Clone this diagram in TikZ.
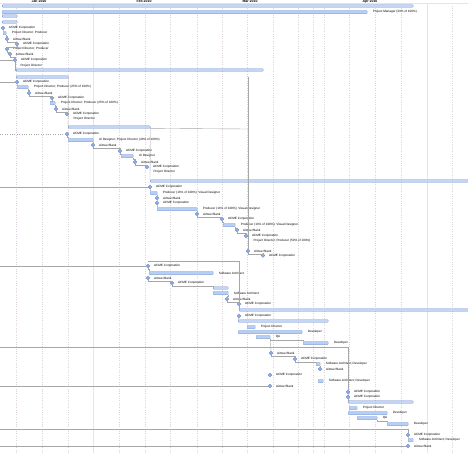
\documentclass[tikz,border=0pt]{standalone}
\usepackage{fontspec}
\setmainfont{Liberation Sans}
\usepackage{xcolor}
\usetikzlibrary{shapes.geometric}

\definecolor{barfill}{HTML}{B8CEF3}
\definecolor{barline}{HTML}{86A6DD}
\definecolor{sumline}{HTML}{6A89CC}
\definecolor{sumfill}{HTML}{C4D6F5}
\definecolor{msfill}{HTML}{8EAEE6}
\definecolor{depgray}{HTML}{A6A6A6}
\definecolor{gridpink}{HTML}{DDD2DD}

% bar, summary bar, milestone
\newcommand{\gsum}[4]{\node[sumbar, minimum width={(#3-#2)*1pt}] (#1) at (#2,#4) {};}
\newcommand{\gtask}[5]{\node[taskbar, minimum width={(#3-#2)*1pt}] (#1) at (#2,#4) {};
  \node[lbl] (#1-l) at ([xshift=5pt]#1.east) {#5};}
\newcommand{\gmile}[4]{\node[mstone] (#1) at (#2,#3) {};
  \node[lbl] (#1-l) at ([xshift=5.5pt]#1.center) {#4};}
\newcommand{\gdep}[2]{\draw[dep] (#1) -- ++(0,1.2) -| (#2);}

\begin{document}
\begin{tikzpicture}[x=1pt, y=-1pt,
    taskbar/.style={draw=barline, fill=barfill, rounded corners=0.6pt, line width=0.3pt, minimum height=3.2pt, inner sep=0pt, anchor=west},
    sumbar/.style={taskbar, draw=sumline, fill=sumfill, minimum height=2.4pt},
    mstone/.style={diamond, draw=sumline, fill=msfill, minimum size=3.8pt, inner sep=0pt, line width=0.3pt},
    lbl/.style={anchor=west, inner sep=0.3pt, font=\fontsize{3.1}{3.6}\selectfont},
    month/.style={inner sep=0pt, font=\fontsize{3.5}{4}\selectfont\bfseries},
    dep/.style={draw=depgray, line width=0.4pt},
    gridline/.style={draw=gridpink, dotted, line width=0.35pt},
    monthline/.style={draw=gray!20, line width=0.4pt}
]
\useasboundingbox (0,0) rectangle (468,453);
\fill[white] (0,0) rectangle (468,453);

% time grid
\foreach \gx in {16,42,68,119,145,170,197,222,247,273,298,313,324,349,375,401,452}
  \draw[gridline] (\gx,3.2) -- (\gx,453);
\foreach \gx in {93,427}
  \draw[monthline] (\gx,3.2) -- (\gx,453);
\draw[monthline] (0,3.2) -- (468,3.2);
\node[month] (jan) at (39,1.2) {Jan 2010};
\node[month] (feb) at (144,1.2) {Feb 2010};
\node[month] (mar) at (250,1.2) {Mar 2010};
\node[month] (apr) at (370,1.2) {Apr 2010};

% first phase
\gsum{s1}{2}{413}{6}
\gtask{t2}{2}{367}{12}{Project Manager (33\% of 100\%)}
\gsum{s3}{2}{17}{16}
\gsum{s4}{2}{17}{22}
\gmile{m5}{3}{28}{ACME Corporation}
\gtask{t6}{3}{6}{33}{Project Director; Producer}
\gmile{m7}{7}{39}{Aimee Blank}
\gmile{m8}{17}{44}{ACME Corporation}
\gmile{m9}{7}{49}{Project Director; Producer}
\gmile{m10}{10}{54}{Aimee Blank}
\gmile{m11}{15}{60}{ACME Corporation}
\node[lbl] (pd11) at (20,66) {Project Director};

\gsum{s13}{16}{263}{70}
\gsum{s14}{16}{68}{77}
\gmile{m15}{17}{82}{ACME Corporation}
\gtask{t16}{17}{28}{87}{Project Director; Producer (25\% of 100\%)}
\gmile{m17}{29}{93}{Aimee Blank}
\gmile{m18}{52}{98}{ACME Corporation}
\gtask{t19}{50}{55}{103}{Project Director; Producer (25\% of 100\%)}
\gmile{m20}{56}{109}{Aimee Blank}
\gmile{m21}{67}{114}{ACME Corporation}
\node[lbl] (pd21) at (73,119) {Project Director};

% design
\gsum{s23}{68}{150}{127}
\gmile{m24}{67}{134}{ACME Corporation}
\gtask{t25}{68}{93}{140}{UI Designer; Project Director (40\% of 100\%)}
\gmile{m26}{93}{145}{Aimee Blank}
\gmile{m27}{120}{151}{ACME Corporation}
\gtask{t28}{121}{133}{156}{UI Designer}
\gmile{m29}{135}{162}{Aimee Blank}
\gmile{m30}{147}{167}{ACME Corporation}
\node[lbl] (pd30) at (153,172) {Project Director};

\gsum{s32}{150}{468}{181}
\gmile{m33}{150}{187}{ACME Corporation}
\gtask{t34}{150}{157}{193}{Producer (13\% of 100\%); Visual Designer}
\gmile{m35}{157}{198}{Aimee Blank}
\gmile{m36}{157}{203}{ACME Corporation}
\gtask{t37}{157}{197}{209}{Producer (13\% of 100\%); Visual Designer}
\gmile{m38}{197}{214}{Aimee Blank}
\gmile{m39}{222}{219}{ACME Corporation}
\gtask{t40}{223}{235}{225}{Producer (13\% of 100\%); Visual Designer}
\gmile{m41}{237}{230}{Aimee Blank}
\gmile{m42}{246}{236}{ACME Corporation}
\node[lbl] (pd42) at (253,241) {Project Director; Producer (50\% of 100\%)};
\gmile{m44}{248}{251}{Aimee Blank}
\gmile{m45}{263}{255.5}{ACME Corporation}

% architecture
\gmile{m46}{148}{266}{ACME Corporation}
\gtask{t47}{149}{213}{273}{Software Architect}
\gmile{m48}{148}{278}{Aimee Blank}
\gmile{m49}{172}{283}{ACME Corporation}
\gsum{s50}{213}{228}{288}
\gtask{t51}{213}{228}{293}{Software Architect}
\gmile{m52}{227}{299}{Aimee Blank}
\gmile{m53}{239}{304}{ACME Corporation}

% build
\gsum{s54}{239}{468}{310}
\gmile{m55}{239}{316}{ACME Corporation}
\gsum{s56}{238}{328}{321}
\gtask{t57}{247}{255}{327}{Project Director}
\gtask{t58}{238}{302}{332}{Developer}
\gtask{t59}{256}{270}{337}{QA}
\gtask{t60}{303}{328}{343}{Developer}
\gmile{m61}{271}{353}{Aimee Blank}
\gmile{m62}{295}{359}{ACME Corporation}
\gtask{t63}{316}{320}{364}{Software Architect; Developer}
\gmile{m64}{320}{369}{Aimee Blank}
\gmile{m65}{270}{375}{ACME Corporation}
\gtask{t66}{318}{323}{381}{Software Architect; Developer}
\gmile{m67}{270}{386}{Aimee Blank}

\gmile{m68}{348}{392}{ACME Corporation}
\gmile{m69}{348}{397}{ACME Corporation}
\gsum{s70}{348}{413}{402}
\gtask{t71}{349}{357}{408}{Project Director}
\gtask{t72}{348}{387}{413}{Developer}
\gtask{t73}{357}{377}{418}{QA}
\gtask{t74}{387}{408}{424}{Developer}
\gmile{m75}{408}{435}{ACME Corporation}
\gtask{t76}{408}{413}{440}{Software Architect; Developer}
\gmile{m77}{408}{446}{Aimee Blank}

% links coming in from the left
\coordinate (inA) at (0,60);
\coordinate (inB) at (0,82);
\coordinate (inC) at (0,134);
\coordinate (inD) at (0,187);
\coordinate (inE) at (0,266);
\coordinate (inF) at (0,347);
\coordinate (inG) at (0,386);
\coordinate (inH) at (0,429);
\coordinate (inI) at (0,446);
\draw[dep] (inA) -- (m11.west);
\draw[dep] (inB) -- (m15.west);
\draw[dep, dotted] (inC) -- (m24.west);
\draw[dep] (inD) -- (m33.west);
\draw[dep] (inE) -- (m46.west);
\draw[dep] (inF) -| (m68.north);
\draw[dep] (inG) -- (m67.west);
\draw[dep] (inH) -| (m75.north);
\draw[dep] (inI) -- (m77.west);

% dependencies
\gdep{m5.south}{t6.north west}
\gdep{t6.south east}{m7.north}
\gdep{m7.south}{m8.north}
\gdep{m8.south}{m9.north}
\gdep{m9.south}{m10.north}
\gdep{m10.south}{m11.north}
\draw[dep] (m11.south) |- (s13.west);
\draw[dep] (s14.east) -- (s23.north west);
\gdep{m15.south}{t16.north west}
\gdep{t16.south east}{m17.north}
\gdep{m17.south}{m18.north}
\gdep{m18.south}{t19.north west}
\gdep{t19.south east}{m20.north}
\gdep{m20.south}{m21.north}
\draw[dep] (s23.east) -- (s32.north west);
\gdep{m24.south}{t25.north west}
\gdep{t25.south east}{m26.north}
\gdep{m26.south}{m27.north}
\gdep{m27.south}{t28.north west}
\gdep{t28.south east}{m29.north}
\gdep{m29.south}{m30.north}
\gdep{m33.south}{t34.north west}
\gdep{t34.south east}{m35.north}
\gdep{m35.south}{m36.north}
\gdep{m36.south}{t37.north west}
\gdep{t37.south east}{m38.north}
\gdep{m38.south}{m39.north}
\gdep{m39.south}{t40.north west}
\gdep{t40.south east}{m41.north}
\gdep{m41.south}{m42.north}
\gdep{m44.south}{m45.north}
\coordinate (cB) at (248,77);
\coordinate (cC) at (248,129);
\draw[dep] (cB) -- (m44.north);
\draw[dep] (s23.south east) -- (cC);
\coordinate (cE) at (148,261);
\draw[dep] (cE) -| (m53.north);
\gdep{m46.south}{t47.north west}
\gdep{m48.south}{m49.north}
\gdep{m49.south}{s50.north west}
\gdep{t51.south east}{m52.north}
\gdep{m52.south}{m53.north}
\draw[dep] (m53.south) -- (s54.north west);
\draw[dep] (m55.south) -- (s56.north west);
\gdep{t59.south east}{t60.north west}
\draw[dep] (t59.south east) -- (m61.north);
\gdep{m61.south}{m62.north}
\gdep{m62.south}{t63.north west}
\gdep{t63.south east}{m64.north}
\gdep{m68.south}{m69.north}
\draw[dep] (m69.south) -- (s70.north west);
\gdep{t73.south east}{t74.north west}
\gdep{m75.south}{t76.north west}
\end{tikzpicture}
\end{document}
